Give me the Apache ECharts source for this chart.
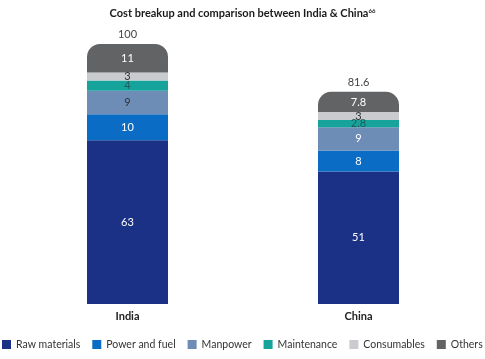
<!DOCTYPE html>
<html><head><meta charset="utf-8">
<script src="https://cdn.jsdelivr.net/npm/echarts@6/dist/echarts.min.js"></script>
<style>html,body{margin:0;padding:0;background:#fff}#c{width:485px;height:359px}</style>
</head><body><div id="c"></div>
<script>
var categories = ['India', 'China'];
var seriesNames = ['Raw materials', 'Power and fuel', 'Manpower', 'Maintenance', 'Consumables', 'Others'];
var rawMaterials = [63, 51];
var powerFuel = [10, 8];
var manpower = [9, 9];
var maintenance = [4, 2.8];
var consumables = [3, 3];
var others = [11, 7.8];
var totals = [100, 81.6];

var values = [rawMaterials, powerFuel, manpower, maintenance, consumables, others];
var colors = ['#1b3185', '#0a6cc4', '#6d8cb6', '#16a39c', '#c9cbcf', '#626365'];
var labelColors = [['#fff','#fff'], ['#fff','#fff'], ['#333','#fff'], ['#1e5d5a','#1e5d5a'], ['#333','#333'], ['#fff','#fff']];
var FONT = 'Lato';

var series = values.map(function (arr, i) {
  return {
    name: seriesNames[i], type: 'bar', stack: 'a', barWidth: 81,
    itemStyle: { color: colors[i], borderRadius: i === 5 ? [13, 13, 0, 0] : 0 },
    data: arr.map(function (v, j) {
      return { value: v, label: { color: labelColors[i][j] } };
    }),
    label: { show: true, position: 'inside', fontFamily: FONT, fontSize: 11 }
  };
});
series.push({
  name: 'total', type: 'bar', stack: 'a', barWidth: 81,
  data: totals.map(function () { return 0; }),
  itemStyle: { color: 'transparent' },
  label: { show: true, position: 'top', distance: 4, fontFamily: FONT, fontSize: 11, color: '#444',
    formatter: function (p) { return String(totals[p.dataIndex]); } }
});

var chart = echarts.init(document.getElementById('c'));
chart.setOption({
  animation: false,
  title: {
    text: '{a|Cost breakup and comparison between India & China}{b|66}',
    left: 'center', top: 3,
    textStyle: { rich: {
      a: { fontFamily: FONT, fontSize: 11, fontWeight: 'bold', color: '#1a1a1a' },
      b: { fontFamily: FONT, fontSize: 6, fontWeight: 'bold', color: '#1a1a1a', verticalAlign: 'top', padding: [0,0,5,0] }
    } }
  },
  legend: {
    data: seriesNames, bottom: 9, left: 2, width: 900, itemWidth: 9, itemHeight: 9, itemGap: 12,
    icon: 'rect', padding: 0,
    textStyle: { fontFamily: FONT, fontSize: 10.5, color: '#333' }
  },
  grid: { left: 12, right: 11, top: 44, bottom: 55 },
  xAxis: {
    type: 'category', data: categories,
    axisLine: { show: false }, axisTick: { show: false },
    axisLabel: { fontFamily: FONT, fontSize: 11, color: '#222', fontWeight: 'bold', margin: 7 }
  },
  yAxis: { type: 'value', min: 0, max: 100, show: false, splitLine: { show: false } },
  series: series
});
</script></body></html>
